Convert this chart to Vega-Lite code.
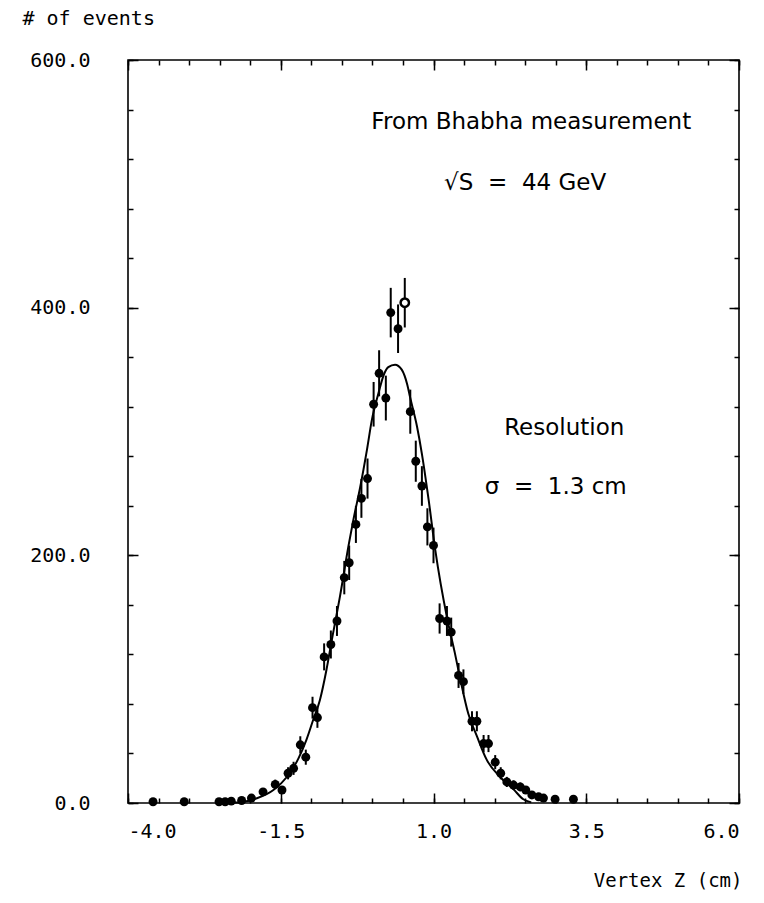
{
  "$schema": "https://vega.github.io/schema/vega-lite/v6.json",
  "width": 611,
  "height": 743,
  "autosize": {"type": "none"},
  "padding": {"left": 128, "top": 60, "right": 25, "bottom": 100},
  "background": "white",
  "config": {
    "view": {"stroke": "black", "strokeWidth": 1.6},
    "axis": {
      "domain": false,
      "grid": false,
      "tickColor": "black",
      "tickWidth": 1.5,
      "labelFont": "DejaVu Sans Mono",
      "labelFontSize": 20,
      "labelColor": "black",
      "titleFont": "DejaVu Sans Mono",
      "titleFontSize": 19,
      "titleFontWeight": "normal",
      "titleColor": "black"
    },
    "text": {"font": "DejaVu Sans", "fontSize": 23, "color": "black"}
  },
  "datasets": {
    "points": [
      {"x": -3.59, "y": 1, "lo": 0, "hi": 2, "kind": "filled"},
      {"x": -3.08, "y": 1, "lo": 0, "hi": 2, "kind": "filled"},
      {"x": -2.51, "y": 1, "lo": 0, "hi": 2, "kind": "filled"},
      {"x": -2.41, "y": 1, "lo": 0, "hi": 2, "kind": "filled"},
      {"x": -2.31, "y": 1.5, "lo": 0.3, "hi": 2.7, "kind": "filled"},
      {"x": -2.14, "y": 2, "lo": 0.6, "hi": 3.4, "kind": "filled"},
      {"x": -1.98, "y": 4, "lo": 2, "hi": 6, "kind": "filled"},
      {"x": -1.79, "y": 9, "lo": 6, "hi": 12, "kind": "filled"},
      {"x": -1.59, "y": 15, "lo": 11.1, "hi": 18.9, "kind": "filled"},
      {"x": -1.48, "y": 10.5, "lo": 7.3, "hi": 13.7, "kind": "filled"},
      {"x": -1.38, "y": 24, "lo": 19.1, "hi": 28.9, "kind": "filled"},
      {"x": -1.29, "y": 28, "lo": 22.7, "hi": 33.3, "kind": "filled"},
      {"x": -1.18, "y": 47, "lo": 40.1, "hi": 53.9, "kind": "filled"},
      {"x": -1.09, "y": 37, "lo": 30.9, "hi": 43.1, "kind": "filled"},
      {"x": -0.98, "y": 77, "lo": 68.2, "hi": 85.8, "kind": "filled"},
      {"x": -0.9, "y": 69, "lo": 60.7, "hi": 77.3, "kind": "filled"},
      {"x": -0.79, "y": 118, "lo": 107.1, "hi": 128.9, "kind": "filled"},
      {"x": -0.68, "y": 128, "lo": 116.7, "hi": 139.3, "kind": "filled"},
      {"x": -0.58, "y": 147, "lo": 134.9, "hi": 159.1, "kind": "filled"},
      {"x": -0.46, "y": 182, "lo": 168.5, "hi": 195.5, "kind": "filled"},
      {"x": -0.38, "y": 194, "lo": 180.1, "hi": 207.9, "kind": "filled"},
      {"x": -0.27, "y": 225, "lo": 210, "hi": 240, "kind": "filled"},
      {"x": -0.18, "y": 246, "lo": 230.3, "hi": 261.7, "kind": "filled"},
      {"x": -0.08, "y": 262, "lo": 245.8, "hi": 278.2, "kind": "filled"},
      {"x": 0.02, "y": 322, "lo": 304, "hi": 340, "kind": "filled"},
      {"x": 0.11, "y": 347, "lo": 328.4, "hi": 365.6, "kind": "filled"},
      {"x": 0.22, "y": 327, "lo": 308.9, "hi": 345.1, "kind": "filled"},
      {"x": 0.3, "y": 396, "lo": 376, "hi": 416, "kind": "filled"},
      {"x": 0.42, "y": 383, "lo": 363.4, "hi": 402.6, "kind": "filled"},
      {"x": 0.53, "y": 404, "lo": 384, "hi": 424, "kind": "open"},
      {"x": 0.62, "y": 316, "lo": 298.2, "hi": 333.8, "kind": "filled"},
      {"x": 0.71, "y": 276, "lo": 259.4, "hi": 292.6, "kind": "filled"},
      {"x": 0.81, "y": 256, "lo": 240, "hi": 272, "kind": "filled"},
      {"x": 0.9, "y": 223, "lo": 208, "hi": 238, "kind": "filled"},
      {"x": 1.0, "y": 208, "lo": 193.6, "hi": 222.4, "kind": "filled"},
      {"x": 1.1, "y": 149, "lo": 136.8, "hi": 161.2, "kind": "filled"},
      {"x": 1.22, "y": 147, "lo": 134.9, "hi": 159.1, "kind": "filled"},
      {"x": 1.29, "y": 138, "lo": 126.3, "hi": 149.7, "kind": "filled"},
      {"x": 1.41, "y": 103, "lo": 92.9, "hi": 113.1, "kind": "filled"},
      {"x": 1.49, "y": 98, "lo": 88.1, "hi": 107.9, "kind": "filled"},
      {"x": 1.63, "y": 66, "lo": 57.9, "hi": 74.1, "kind": "filled"},
      {"x": 1.71, "y": 66, "lo": 57.9, "hi": 74.1, "kind": "filled"},
      {"x": 1.82, "y": 48, "lo": 41.1, "hi": 54.9, "kind": "filled"},
      {"x": 1.9, "y": 48, "lo": 41.1, "hi": 54.9, "kind": "filled"},
      {"x": 2.01, "y": 33, "lo": 27.3, "hi": 38.7, "kind": "filled"},
      {"x": 2.1, "y": 24, "lo": 19.1, "hi": 28.9, "kind": "filled"},
      {"x": 2.2, "y": 17, "lo": 12.9, "hi": 21.1, "kind": "filled"},
      {"x": 2.31, "y": 14.5, "lo": 10.7, "hi": 18.3, "kind": "filled"},
      {"x": 2.42, "y": 13, "lo": 9.4, "hi": 16.6, "kind": "filled"},
      {"x": 2.51, "y": 10.5, "lo": 7.3, "hi": 13.7, "kind": "filled"},
      {"x": 2.61, "y": 6.5, "lo": 4, "hi": 9, "kind": "filled"},
      {"x": 2.72, "y": 5, "lo": 2.8, "hi": 7.2, "kind": "filled"},
      {"x": 2.8, "y": 4, "lo": 2, "hi": 6, "kind": "filled"},
      {"x": 2.99, "y": 3, "lo": 1.3, "hi": 4.7, "kind": "filled"},
      {"x": 3.29, "y": 3, "lo": 1.3, "hi": 4.7, "kind": "filled"}
    ],
    "curve": [
      {"x": -2.4, "y": 0.2},
      {"x": -2.17, "y": 0.6},
      {"x": -1.89, "y": 3.8},
      {"x": -1.62, "y": 10.5},
      {"x": -1.4, "y": 21},
      {"x": -1.21, "y": 36},
      {"x": -1.08, "y": 51},
      {"x": -0.97, "y": 67},
      {"x": -0.86, "y": 83},
      {"x": -0.75, "y": 108},
      {"x": -0.67, "y": 130},
      {"x": -0.53, "y": 167},
      {"x": -0.39, "y": 208},
      {"x": -0.31, "y": 229},
      {"x": -0.2, "y": 255},
      {"x": -0.09, "y": 285},
      {"x": -0.01, "y": 309},
      {"x": 0.1, "y": 331},
      {"x": 0.18, "y": 345},
      {"x": 0.26, "y": 352},
      {"x": 0.37, "y": 354},
      {"x": 0.48, "y": 350},
      {"x": 0.57, "y": 338},
      {"x": 0.62, "y": 327},
      {"x": 0.73, "y": 304},
      {"x": 0.81, "y": 282},
      {"x": 0.92, "y": 245},
      {"x": 1.03, "y": 204},
      {"x": 1.22, "y": 150},
      {"x": 1.35, "y": 121},
      {"x": 1.43, "y": 102},
      {"x": 1.57, "y": 72},
      {"x": 1.71, "y": 54},
      {"x": 1.87, "y": 35},
      {"x": 2.09, "y": 21},
      {"x": 2.31, "y": 11},
      {"x": 2.47, "y": 3},
      {"x": 2.6, "y": 0.5}
    ],
    "notes": [
      {"label": "From Bhabha measurement", "x": 2.6, "y": 550},
      {"label": "√S\u00a0\u00a0=\u00a0\u00a044 GeV", "x": 2.5, "y": 501},
      {"label": "Resolution", "x": 3.14, "y": 303},
      {"label": "σ\u00a0\u00a0=\u00a0\u00a01.3 cm", "x": 3.0, "y": 255}
    ]
  },
  "resolve": {"axis": {"x": "independent", "y": "independent"}},
  "layer": [
    {
      "data": {"name": "curve"},
      "mark": {"type": "line", "interpolate": "monotone", "color": "black", "strokeWidth": 2},
      "encoding": {
        "x": {
          "field": "x", "type": "quantitative",
          "scale": {"domain": [-4, 6], "nice": false, "zero": false},
          "axis": {
            "orient": "bottom",
            "values": [-4, -1.5, 1, 3.5, 6],
            "tickSize": -10,
            "labelPadding": 28,
            "labelExpr": "replace(format(datum.value, '.1f'), '\u2212', '-')",
            "title": "Vertex Z (cm)",
            "titleAngle": 0,
            "titleAlign": "right",
            "titleBaseline": "alphabetic",
            "titleX": 614,
            "titleY": 83
          }
        },
        "y": {
          "field": "y", "type": "quantitative",
          "scale": {"domain": [0, 600], "nice": false, "zero": true},
          "axis": {
            "orient": "left",
            "values": [0, 200, 400, 600],
            "tickSize": -10,
            "labelPadding": 48,
            "format": ".1f",
            "title": "# of events",
            "titleAngle": 0,
            "titleAlign": "left",
            "titleBaseline": "alphabetic",
            "titleX": -106,
            "titleY": -36,
            "titleFontSize": 20
          }
        }
      }
    },
    {
      "data": {"name": "points"},
      "mark": {"type": "rule", "color": "black", "strokeWidth": 2},
      "encoding": {
        "x": {
          "field": "x", "type": "quantitative",
          "scale": {"domain": [-4, 6], "nice": false, "zero": false},
          "axis": {
            "orient": "bottom",
            "values": [-4, -3.5, -3, -2.5, -2, -1.5, -1, -0.5, 0, 0.5, 1, 1.5, 2, 2.5, 3, 3.5, 4, 4.5, 5, 5.5, 6],
            "tickSize": -5,
            "labels": false,
            "title": null
          }
        },
        "y": {
          "field": "lo", "type": "quantitative",
          "scale": {"domain": [0, 600], "nice": false},
          "axis": {
            "orient": "left",
            "values": [0, 40, 80, 120, 160, 200, 240, 280, 320, 360, 400, 440, 480, 520, 560, 600],
            "tickSize": -5,
            "labels": false,
            "title": null
          }
        },
        "y2": {"field": "hi"}
      }
    },
    {
      "data": {"name": "points"},
      "transform": [{"filter": "datum.kind == 'filled'"}],
      "mark": {"type": "point", "shape": "circle", "filled": true, "size": 80, "color": "black", "opacity": 1},
      "encoding": {
        "x": {
          "field": "x", "type": "quantitative",
          "scale": {"domain": [-4, 6], "nice": false, "zero": false},
          "axis": {
            "orient": "top",
            "values": [-4, -1.5, 1, 3.5, 6],
            "tickSize": -10,
            "labels": false,
            "title": null
          }
        },
        "y": {
          "field": "y", "type": "quantitative",
          "scale": {"domain": [0, 600], "nice": false},
          "axis": {
            "orient": "right",
            "values": [0, 200, 400, 600],
            "tickSize": -10,
            "labels": false,
            "title": null
          }
        }
      }
    },
    {
      "data": {"name": "points"},
      "transform": [{"filter": "datum.kind == 'open'"}],
      "mark": {"type": "point", "shape": "circle", "filled": false, "size": 70, "stroke": "black", "strokeWidth": 2.5, "fill": "white", "opacity": 1},
      "encoding": {
        "x": {
          "field": "x", "type": "quantitative",
          "scale": {"domain": [-4, 6], "nice": false, "zero": false},
          "axis": {
            "orient": "top",
            "values": [-4, -3.5, -3, -2.5, -2, -1.5, -1, -0.5, 0, 0.5, 1, 1.5, 2, 2.5, 3, 3.5, 4, 4.5, 5, 5.5, 6],
            "tickSize": -5,
            "labels": false,
            "title": null
          }
        },
        "y": {
          "field": "y", "type": "quantitative",
          "scale": {"domain": [0, 600], "nice": false},
          "axis": {
            "orient": "right",
            "values": [0, 40, 80, 120, 160, 200, 240, 280, 320, 360, 400, 440, 480, 520, 560, 600],
            "tickSize": -5,
            "labels": false,
            "title": null
          }
        }
      }
    },
    {
      "data": {"name": "notes"},
      "mark": {"type": "text", "align": "center", "baseline": "middle"},
      "encoding": {
        "x": {"field": "x", "type": "quantitative", "axis": null},
        "y": {"field": "y", "type": "quantitative", "axis": null},
        "text": {"field": "label"}
      }
    }
  ]
}
